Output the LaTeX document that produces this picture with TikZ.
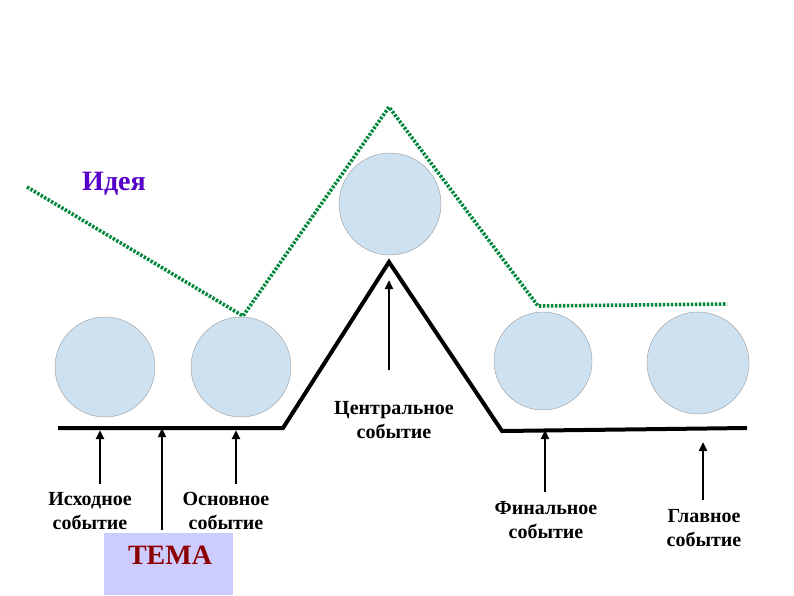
\documentclass[tikz,border=0pt]{standalone}
\usepackage{fontspec}
\setmainfont{Liberation Serif}
\usepackage{tikz}
\usetikzlibrary{arrows.meta,positioning}

\begin{document}
\begin{tikzpicture}[x=1pt, y=-1pt, >={Triangle[length=9pt,width=8pt]}]

  % Define colors
  \definecolor{eventblue}{RGB}{206,225,241}
  \definecolor{ideagreen}{RGB}{0,135,60}
  \definecolor{ideaviolet}{RGB}{85,0,200}
  \definecolor{temalilac}{RGB}{204,204,255}
  \definecolor{temared}{RGB}{140,0,0}

  \tikzset{
    event/.style={circle, draw=gray!80, thin, fill=eventblue, minimum size=#1},
    event/.default=100pt,
    label/.style={font=\bfseries\fontsize{20}{24}\selectfont, align=center, inner sep=0pt},
    pointer/.style={->, line width=2.8pt}
  }

  \useasboundingbox (0,0) rectangle (794,595);

  % Events
  \node[event] (ishod) at (105,367) {};
  \node[event] (osnov) at (241,367) {};
  \node[event=102pt] (centr) at (390,204) {};
  \node[event=98pt] (final) at (543,361) {};
  \node[event=102pt] (glavn) at (698,363) {};

  % Plot line
  \coordinate (p0) at (58,428);
  \coordinate (p1) at (283,428);
  \coordinate (top) at (389,262);
  \coordinate (p2) at (502,431);
  \coordinate (p3) at (747,428);
  \draw[line width=4pt, line join=miter] (p0) -- (p1) -- (top) -- (p2) -- (p3);

  % Idea line
  \coordinate (i0) at (27,187);
  \coordinate (i1) at (243,316);
  \coordinate (i2) at (389,107);
  \coordinate (i3) at (538,306);
  \coordinate (i4) at (727,304);
  \draw[ideagreen, line width=3.6pt, dash pattern=on 2.4pt off 1.6pt] (i0) -- (i1) -- (i2) -- (i3) -- (i4);
  \node[ideaviolet, font=\bfseries\fontsize{28}{32}\selectfont] (idea) at (114,184) {Идея};

  % Theme
  \node[fill=temalilac, minimum width=129pt, minimum height=62pt, inner sep=0pt] (tema) at (168.5,564) {};
  \node[temared, font=\bfseries\fontsize{28}{32}\selectfont] (tematext) at (170,555) {ТЕМА};

  % Labels
  \node[label] (lishod) at (90,511) {Исходное\\событие};
  \node[label] (losnov) at (226,511) {Основное\\событие};
  \node[label] (lcentr) at (394,420) {Центральное\\событие};
  \node[label] (lfinal) at (546,520) {Финальное\\событие};
  \node[label] (lglavn) at (704,528) {Главное\\событие};

  % Pointers
  \coordinate (aishod) at (100,430);
  \coordinate (atema) at (162,428);
  \coordinate (aosnov) at (236,430);
  \coordinate (acentr) at (389,280);
  \coordinate (afinal) at (545,430);
  \coordinate (aglavn) at (703,442);
  \draw[pointer] (100,484) -- (aishod);
  \draw[->, line width=1.4pt] (162,530) -- (atema);
  \draw[pointer] (236,484) -- (aosnov);
  \draw[pointer] (389,370) -- (acentr);
  \draw[pointer] (545,492) -- (afinal);
  \draw[pointer] (703,500) -- (aglavn);

\end{tikzpicture}
\end{document}
